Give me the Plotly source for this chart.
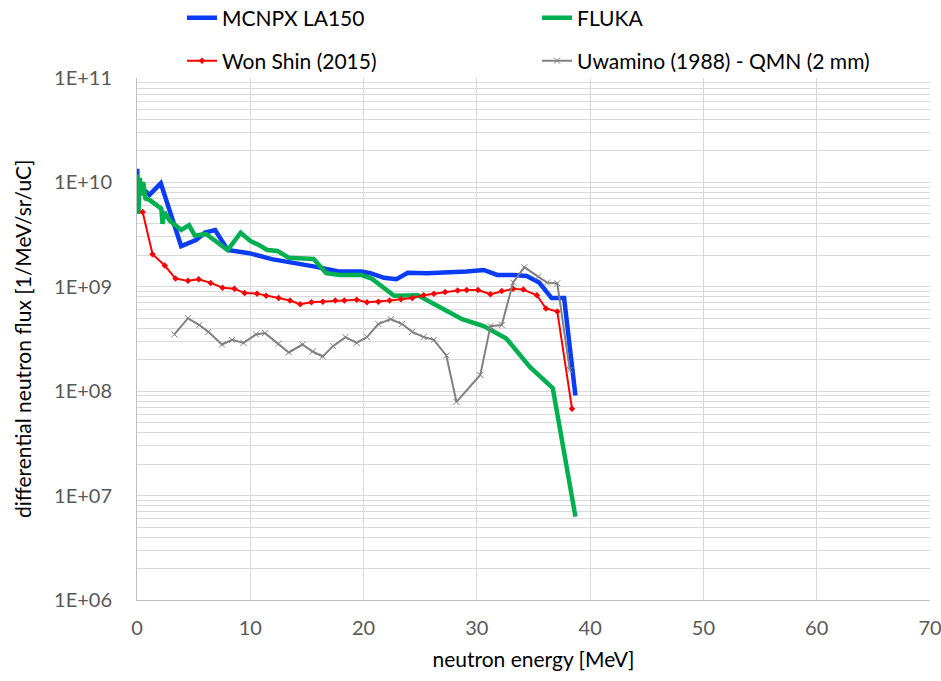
import plotly.graph_objects as go

# MCNPX LA150 spectrum
mcnpx_e = [0.02, 0.06, 0.2, 0.6, 1.1, 2.1, 3.9, 5.2, 6.0, 6.9, 8.0, 9.9, 11.9, 14.3, 15.7,
           17.8, 19.8, 20.6, 21.8, 22.9, 23.9, 25.6, 27.7, 29.1, 30.6, 31.8, 33.2, 34.4,
           35.5, 36.6, 37.7, 38.7]
mcnpx_v = [1.35e10, 5.0e9, 1.05e10, 8.5e9, 7.6e9, 9.8e9, 2.45e9, 2.8e9, 3.3e9, 3.5e9, 2.25e9,
           2.1e9, 1.84e9, 1.68e9, 1.56e9, 1.4e9, 1.4e9, 1.35e9, 1.22e9, 1.18e9, 1.36e9,
           1.35e9, 1.37e9, 1.4e9, 1.45e9, 1.3e9, 1.3e9, 1.27e9, 1.1e9, 7.8e8, 7.8e8, 9.1e7]

# FLUKA spectrum
fluka_e = [0.02, 0.12, 0.25, 0.4, 0.55, 0.75, 1.1, 1.7, 2.15, 2.25, 2.4, 2.9, 3.9, 4.6, 5.1,
           6.1, 7.0, 8.0, 9.15, 10.0, 10.8, 11.5, 12.4, 13.4, 15.6, 16.7, 17.9, 19.8, 20.7,
           22.7, 24.8, 26.8, 28.7, 30.6, 32.6, 34.7, 36.7, 38.7]
fluka_v = [1.2e10, 5.0e9, 1.1e10, 7.5e9, 1.0e10, 7.0e9, 6.8e9, 6.0e9, 5.6e9, 4.0e9, 5.2e9,
           4.3e9, 3.5e9, 3.9e9, 3.1e9, 3.2e9, 2.7e9, 2.25e9, 3.3e9, 2.75e9, 2.5e9, 2.25e9,
           2.2e9, 1.9e9, 1.85e9, 1.35e9, 1.3e9, 1.3e9, 1.2e9, 8.2e8, 8.3e8, 6.3e8, 4.9e8,
           4.2e8, 3.2e8, 1.7e8, 1.07e8, 6.3e6]

# Won Shin (2015) measurement
won_e = [0.5, 1.37, 2.45, 3.4, 4.5, 5.45, 6.5, 7.55, 8.6, 9.5, 10.6, 11.4, 12.5, 13.5, 14.4,
         15.4, 16.4, 17.5, 18.3, 19.4, 20.3, 21.3, 22.3, 23.3, 24.3, 25.3, 26.2, 27.2, 28.3,
         29.1, 30.1, 31.2, 32.2, 33.2, 34.1, 35.3, 36.1, 37.1, 38.4]
won_v = [5.2e9, 2.05e9, 1.6e9, 1.2e9, 1.14e9, 1.18e9, 1.09e9, 9.8e8, 9.6e8, 8.7e8, 8.6e8,
         8.2e8, 7.8e8, 7.4e8, 6.8e8, 7.1e8, 7.2e8, 7.4e8, 7.4e8, 7.5e8, 7.1e8, 7.2e8, 7.4e8,
         7.6e8, 7.8e8, 8.3e8, 8.6e8, 8.9e8, 9.2e8, 9.3e8, 9.3e8, 8.5e8, 9.1e8, 9.6e8, 9.4e8,
         8.3e8, 6.2e8, 5.8e8, 6.8e7]

# Uwamino (1988) - QMN (2 mm) measurement
uwa_e = [3.3, 4.5, 5.5, 6.3, 7.5, 8.4, 9.4, 10.5, 11.3, 12.5, 13.4, 14.6, 15.5, 16.4, 17.3,
         18.4, 19.4, 20.3, 21.3, 22.4, 23.4, 24.3, 25.3, 26.2, 27.3, 28.2, 30.3, 31.2, 32.2,
         33.2, 34.2, 35.4, 36.2, 37.1, 38.2]
uwa_v = [3.5e8, 5.0e8, 4.3e8, 3.7e8, 2.8e8, 3.1e8, 2.9e8, 3.5e8, 3.6e8, 2.85e8, 2.35e8,
         2.8e8, 2.4e8, 2.15e8, 2.7e8, 3.3e8, 2.9e8, 3.3e8, 4.4e8, 4.9e8, 4.4e8, 3.7e8,
         3.3e8, 3.1e8, 2.2e8, 7.9e7, 1.43e8, 4.2e8, 4.3e8, 1.1e9, 1.54e9, 1.25e9, 1.1e9,
         1.08e9, 1.6e8]

x_ticks = [0, 10, 20, 30, 40, 50, 60, 70]
y_ticks = [1e6, 1e7, 1e8, 1e9, 1e10, 1e11]
y_tick_text = ["1E+06", "1E+07", "1E+08", "1E+09", "1E+10", "1E+11"]

FONT = "Lato"
GRID = "#d9d9d9"
W, H = 941, 681
L, R, T, B = 137, 11, 78, 81

fig = go.Figure()
fig.add_trace(go.Scatter(x=mcnpx_e, y=mcnpx_v, mode="lines", name="MCNPX LA150",
                         line=dict(color="#0a3cf5", width=4.5), legend="legend"))
fig.add_trace(go.Scatter(x=fluka_e, y=fluka_v, mode="lines", name="FLUKA",
                         line=dict(color="#00b050", width=4.5), legend="legend2"))
fig.add_trace(go.Scatter(x=won_e, y=won_v, mode="lines+markers", name="Won Shin (2015)",
                         line=dict(color="#ff0000", width=2),
                         marker=dict(symbol="diamond", size=5, color="#ff0000"),
                         legend="legend3"))
fig.add_trace(go.Scatter(x=uwa_e, y=uwa_v, mode="lines+markers",
                         name="Uwamino (1988) - QMN (2 mm)",
                         line=dict(color="#808080", width=2),
                         marker=dict(symbol="x-thin", size=6,
                                     line=dict(color="#808080", width=1)),
                         legend="legend4"))


def legend_box(px, py):
    # one legend entry placed at pixel position (px, py) in the page
    return dict(xref="container", yref="container", x=px / W, y=1 - py / H,
                xanchor="left", yanchor="middle", bgcolor="rgba(0,0,0,0)",
                font=dict(family=FONT, size=21, color="#000000"), itemwidth=30)


fig.update_layout(
    width=W, height=H,
    margin=dict(l=L, r=R, t=T, b=B, autoexpand=False),
    paper_bgcolor="white", plot_bgcolor="white",
    font=dict(family=FONT),
    showlegend=True,
    legend=legend_box(182, 18),
    legend2=legend_box(537, 18),
    legend3=legend_box(182, 61),
    legend4=legend_box(537, 61),
    xaxis=dict(range=[0, 70], tickvals=x_ticks, showgrid=True, gridcolor=GRID,
               gridwidth=1, zeroline=False, showline=True, linecolor="#bfbfbf",
               ticks="", ticklabelstandoff=10, ticklabeloverflow="allow",
               tickfont=dict(family=FONT, size=20, color="#595959"),
               title=dict(text="neutron energy [MeV]", standoff=14,
                          font=dict(family=FONT, size=21, color="#000000"))),
    yaxis=dict(type="log", range=[6, 11], tickvals=y_ticks, ticktext=y_tick_text,
               showgrid=True, gridcolor=GRID, gridwidth=1, zeroline=False,
               showline=True, linecolor="#bfbfbf", ticks="", ticklabelstandoff=20,
               minor=dict(dtick="D1", showgrid=True, gridcolor=GRID, gridwidth=1),
               tickfont=dict(family=FONT, size=20, color="#595959")),
    annotations=[dict(text="differential neutron flux [1/MeV/sr/uC]", textangle=-90,
                      xref="paper", yref="paper", x=-(L - 22) / (W - L - R), y=0.5,
                      xanchor="center", yanchor="middle", showarrow=False,
                      font=dict(family=FONT, size=21, color="#000000"))],
)

fig.write_html("out.html")
